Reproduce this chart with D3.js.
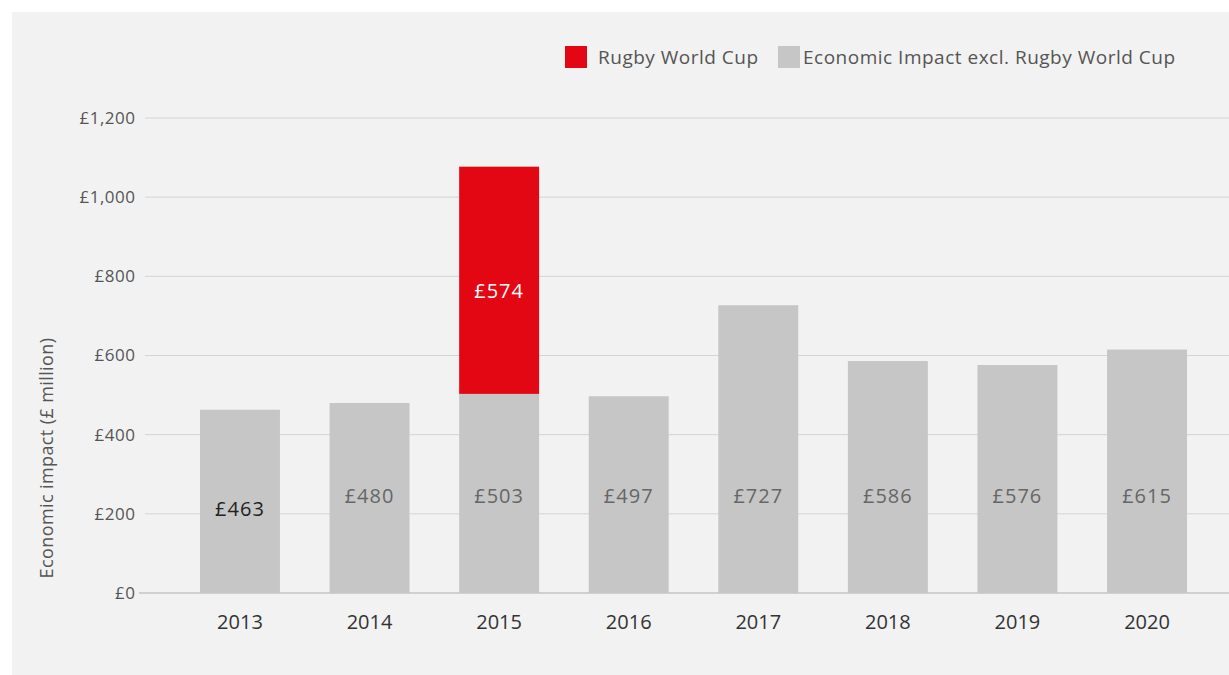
<!DOCTYPE html>
<html>
<head>
<meta charset="utf-8">
<script src="https://cdn.jsdelivr.net/npm/d3@7"></script>
<style>
  html, body { margin: 0; padding: 0; background: #ffffff; }
  svg { display: block; }
  text { font-family: "Open Sans", Lato, sans-serif; }
</style>
</head>
<body>
<svg id="chart" width="1229" height="675"></svg>
<script>
// Economic impact by year, £ million
const years = ["2013", "2014", "2015", "2016", "2017", "2018", "2019", "2020"];
const baseImpact = [463, 480, 503, 497, 727, 586, 576, 615];
const rugbyWorldCup = [0, 0, 574, 0, 0, 0, 0, 0];
const yTicks = [0, 200, 400, 600, 800, 1000, 1200];
const seriesNames = ["Rugby World Cup", "Economic Impact excl. Rugby World Cup"];
const seriesColors = ["#e30613", "#c6c6c6"];

const svg = d3.select("#chart");
const W = 1229, H = 675;

// panel background
svg.append("rect")
  .attr("x", 12).attr("y", 12)
  .attr("width", W - 12).attr("height", H - 12)
  .attr("fill", "#f2f2f2");

const x = d3.scaleBand()
  .domain(years)
  .range([175.2, 1211.8])
  .paddingInner(0.383)
  .paddingOuter(0.1915);

const y = d3.scaleLinear()
  .domain([0, 1200])
  .range([593, 118]);

// gridlines + tick labels
const grid = svg.append("g");
yTicks.forEach(t => {
  grid.append("line")
    .attr("x1", t === 0 ? 139 : 145)
    .attr("x2", W)
    .attr("y1", y(t)).attr("y2", y(t))
    .attr("stroke", t === 0 ? "#c4c4c4" : "#d4d4d4")
    .attr("stroke-width", t === 0 ? 1.5 : 1);
  grid.append("text")
    .attr("x", 135.5)
    .attr("y", y(t))
    .attr("dy", "0.35em")
    .attr("text-anchor", "end")
    .attr("font-size", 17)
    .attr("letter-spacing", 0.5)
    .attr("fill", "#555")
    .text("£" + d3.format(",")(t));
});

// y-axis title
svg.append("text")
  .attr("transform", `translate(53, ${y(0) - 135}) rotate(-90)`)
  .attr("text-anchor", "middle")
  .attr("font-size", 18)
  .attr("letter-spacing", 0.4)
  .attr("fill", "#555")
  .text("Economic impact (£ million)");

// stacked data
const rows = years.map((yr, i) => ({ year: yr, base: baseImpact[i], rwc: rugbyWorldCup[i] }));
const stack = d3.stack().keys(["base", "rwc"])(rows);

const bars = svg.append("g");
stack.forEach(layer => {
  const color = layer.key === "rwc" ? seriesColors[0] : seriesColors[1];
  bars.selectAll(null)
    .data(layer.filter(d => d[1] > d[0]))
    .join("rect")
    .attr("x", d => x(d.data.year))
    .attr("width", x.bandwidth())
    .attr("y", d => y(d[1]))
    .attr("height", d => y(d[0]) - y(d[1]))
    .attr("fill", color);
});

// value labels on the base segment
bars.selectAll(null)
  .data(rows)
  .join("text")
  .attr("x", d => x(d.year) + x.bandwidth() / 2)
  .attr("y", (d, i) => i === 0 ? y(213) : y(245))
  .attr("dy", "0.35em")
  .attr("text-anchor", "middle")
  .attr("font-size", 20)
  .attr("letter-spacing", 1)
  .attr("fill", (d, i) => i === 0 ? "#222" : "#666")
  .text(d => "£" + d.base);

// value labels on the Rugby World Cup segment
bars.selectAll(null)
  .data(rows.filter(d => d.rwc > 0))
  .join("text")
  .attr("x", d => x(d.year) + x.bandwidth() / 2)
  .attr("y", d => y(d.base + d.rwc / 2) + 11)
  .attr("dy", "0.35em")
  .attr("text-anchor", "middle")
  .attr("font-size", 20)
  .attr("letter-spacing", 1)
  .attr("fill", "#ffffff")
  .text(d => "£" + d.rwc);

// x-axis labels
svg.append("g")
  .selectAll("text")
  .data(years)
  .join("text")
  .attr("x", d => x(d) + x.bandwidth() / 2)
  .attr("y", 622)
  .attr("dy", "0.35em")
  .attr("text-anchor", "middle")
  .attr("font-size", 20)
  .attr("fill", "#333")
  .text(d => d);

// legend
const legend = svg.append("g");
const legendX = [565, 778];
seriesNames.forEach((name, i) => {
  legend.append("rect")
    .attr("x", legendX[i]).attr("y", 46)
    .attr("width", 22).attr("height", 22)
    .attr("fill", seriesColors[i]);
  legend.append("text")
    .attr("x", legendX[i] + (i === 0 ? 33 : 25))
    .attr("y", 57)
    .attr("dy", "0.35em")
    .attr("font-size", 19)
    .attr("letter-spacing", 0.5)
    .attr("fill", "#555")
    .text(name);
});
</script>
</body>
</html>
